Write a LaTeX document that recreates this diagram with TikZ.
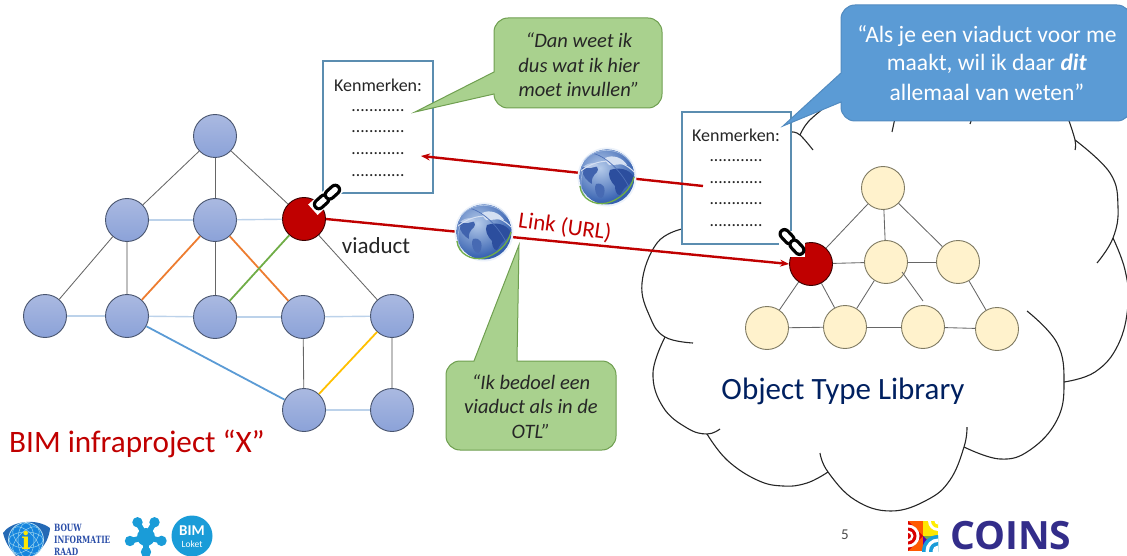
\documentclass[tikz,border=0pt]{standalone}
\usepackage{fontspec}
\setmainfont{Carlito}
\newfontfamily\coinsfont{Open Sans}
\newfontfamily\birfont{DejaVu Serif}
\usetikzlibrary{arrows.meta}
\definecolor{inkred}{HTML}{C00000}
\definecolor{navy}{HTML}{002060}
\definecolor{txt}{HTML}{262626}
\definecolor{calloutgreen}{HTML}{A9D18E}
\definecolor{calloutgreenline}{HTML}{6F9F50}
\definecolor{calloutblue}{HTML}{5B9BD5}
\definecolor{boxline}{HTML}{5B8DB0}
\definecolor{nodeline}{HTML}{49556F}
\definecolor{nodetop}{HTML}{AAB9E1}
\definecolor{nodebot}{HTML}{8BA2D8}
\definecolor{cream}{HTML}{FFF2CC}
\definecolor{creamline}{HTML}{7F7A62}
\definecolor{edgedark}{HTML}{666666}
\definecolor{edgegrey}{HTML}{BFBFBF}
\definecolor{edgepale}{HTML}{BCD2EA}
\definecolor{edgeorange}{HTML}{ED7D31}
\definecolor{edgegreen}{HTML}{70AD47}
\definecolor{edgeyellow}{HTML}{FFC000}
\definecolor{logoblue}{HTML}{1A9CD8}
\definecolor{birblue}{HTML}{2B4EA8}
\definecolor{coinsblue}{HTML}{332D8A}
\definecolor{oceanhi}{HTML}{B5CBEA}
\definecolor{oceanmid}{HTML}{6F95D2}
\definecolor{oceanlo}{HTML}{3560B0}
\definecolor{landdark}{HTML}{2C4E9E}
\definecolor{landpale}{HTML}{D5E0F2}
\newcommand{\fs}[1]{\fontsize{#1}{#1}\selectfont}
\tikzset{
  x=1pt,y=-1pt,
  bluenode/.style={circle,draw=nodeline,line width=.9pt,top color=nodetop,bottom color=nodebot,minimum size=43pt,inner sep=0pt},
  creamnode/.style={circle,draw=creamline,line width=.9pt,fill=cream,minimum size=43pt,inner sep=0pt},
  rednode/.style={circle,draw=black!70!inkred,line width=.9pt,fill=inkred,minimum size=43pt,inner sep=0pt},
  edark/.style={draw=edgedark,line width=.85pt},
  egrey/.style={draw=edgegrey,line width=1.2pt},
  epale/.style={draw=edgepale,line width=1.4pt},
  eorange/.style={draw=edgeorange,line width=1.8pt},
  egreen/.style={draw=edgegreen,line width=1.8pt},
  eblue/.style={draw=calloutblue,line width=1.8pt},
  eyellow/.style={draw=edgeyellow,line width=1.8pt},
  cloudline/.style={draw=black!85,line width=1.1pt},
  listbox/.style={draw=boxline,line width=1.1pt,fill=white},
  kenm/.style={text=txt,font=\fs{18},inner sep=0pt},
  dotrow/.style={text=txt,font=\fs{17.5},inner sep=0pt},
  linkarrow/.style={draw=inkred,line width=2.4pt,-{Stealth[length=9pt,width=7pt]}},
  greencall/.style={fill=calloutgreen,draw=calloutgreenline,line width=1pt},
  bluecall/.style={fill=calloutblue,draw=calloutblue!90!black,line width=1pt},
  quote/.style={align=center,inner sep=0pt,text=txt,font=\fs{20.5}\itshape},
  quoteb/.style={align=center,inner sep=0pt,text=white,font=\fs{23.5}},
  birtext/.style={text=birblue,font=\fs{10}\bfseries\birfont,inner sep=0pt,anchor=west,xscale=.74,transform shape},
  worldglobe/.pic={
    \fill[white!75!oceanhi] (0,0) circle (29.5);
    \begin{scope}
      \clip (0,0) circle (27.5);
      \fill[oceanlo] (0,0) circle (28);
      \shade[inner color=oceanhi,outer color=oceanlo,shading=radial] (-7,-9) circle (35);
      \fill[landdark] (3,-7) .. controls (12,-10) and (22,-8) .. (26,-1) .. controls (27,7) and (19,7) .. (15,15) .. controls (12,22) and (8,16) .. (8,9) .. controls (4,5) and (0,-2) .. (3,-7) -- cycle;
      \fill[landdark!70!oceanmid] (-25,-9) .. controls (-16,-14) and (-6,-11) .. (-10,-5) .. controls (-14,-1) and (-16,2) .. (-15,7) .. controls (-19,5) and (-26,-2) .. (-25,-9) -- cycle;
      \fill[landdark!60!oceanmid] (-11,7) .. controls (-4,5) and (0,11) .. (-4,20) .. controls (-9,24) and (-14,13) .. (-11,7) -- cycle;
      \fill[landpale] (-2,-19) .. controls (6,-23) and (16,-19) .. (20,-12) .. controls (12,-14) and (6,-11) .. (2,-12) .. controls (0,-14) and (-2,-16) .. (-2,-19) -- cycle;
      \fill[landpale!70!oceanmid] (-24,-10) .. controls (-18,-15) and (-12,-15) .. (-8,-12) .. controls (-13,-9) and (-19,-8) .. (-24,-10) -- cycle;
      \draw[landpale,line width=1pt] (-26,-6) .. controls (-10,-19) and (14,-20) .. (28,-4);
      \draw[landdark!50!oceanmid,line width=.7pt] (-16,-24) .. controls (-2,-22) and (14,-6) .. (22,10);
    \end{scope}
    \draw[oceanmid!60!white,line width=.7pt] (-23,-16) .. controls (-14,-29) and (12,-32) .. (24,-14);
    \draw[oceanmid!70!white,line width=.7pt] (-24,-6) .. controls (-27,4) and (-27,12) .. (-22,19);
    \draw[edgegreen,line width=1.3pt] (-27,9) .. controls (-26,22) and (-12,29) .. (0,26) .. controls (12,23) and (24,13) .. (27,0);
  },
  chainlink/.pic={
    \draw[black,line width=12pt,line cap=round] (-11,0) -- (-3.5,0);
    \draw[white,line width=5.4pt,line cap=round] (-11,0) -- (-3.5,0);
    \draw[black,line width=12pt,line cap=round] (3.5,0) -- (11,0);
    \draw[white,line width=5.4pt,line cap=round] (3.5,0) -- (11,0);
  },
}
\begin{document}
\begin{tikzpicture}
\useasboundingbox (0,0) rectangle (1127,556);
\clip (0,0) rectangle (1127,556);
% cloud
\draw[cloudline] plot[smooth,tension=.7] coordinates {(682,229) (657,243) (642,283) (650,317) (665,337) (693,343)};
\draw[cloudline] plot[smooth,tension=.7] coordinates {(665,337) (653,373) (663,407) (687,428) (707,434) (720,429)};
\draw[cloudline] plot[smooth,tension=.7] coordinates {(707,434) (727,460) (757,480) (783,486) (807,483) (828,472)};
\draw[cloudline] plot[smooth,tension=.7] coordinates {(820,453) (828,472) (855,500) (891,511) (927,500) (950,480) (964,447) (967,427)};
\draw[cloudline] plot[smooth,tension=.7] coordinates {(964,447) (1000,459) (1030,450) (1057,420) (1064,383) (1057,343) (1027,311)};
\draw[cloudline] plot[smooth,tension=.7] coordinates {(1064,382) (1095,372) (1118,345) (1128,305) (1125,270) (1113,238)};
\draw[cloudline] plot[smooth,tension=.7] coordinates {(1097,263) (1113,238) (1118,207) (1110,173) (1075,140)};
\draw[cloudline] plot[smooth,tension=.7] coordinates {(1075,150) (1075,140) (1068,118)};
\draw[cloudline] (892,132) -- (895,118);
\draw[cloudline] (970,124) -- (972,118);
\draw[cloudline] plot[smooth,tension=.7] coordinates {(792,132) (800,135) (813,150)};
\draw[cloudline] plot[smooth,tension=.7] coordinates {(800,135) (808,122) (824,108)};
% attribute boxes
\node[listbox,minimum width=110pt,minimum height=132pt,inner sep=0pt] (boxl) at (378,127) {};
\node[listbox,minimum width=109pt,minimum height=132pt,inner sep=0pt] (boxr) at (736.5,178) {};
\node[kenm] (kl) at (378,85) {Kenmerken:};
\node[dotrow] (dl1) at (378,111) {............};
\node[dotrow] (dl2) at (378,132) {............};
\node[dotrow] (dl3) at (378,154) {............};
\node[dotrow] (dl4) at (378,176) {............};
\node[kenm] (kr) at (736,135) {Kenmerken:};
\node[dotrow] (dr1) at (736,161) {............};
\node[dotrow] (dr2) at (736,183) {............};
\node[dotrow] (dr3) at (736,204) {............};
\node[dotrow] (dr4) at (736,226) {............};
% project graph
\node[bluenode] (a) at (215,136) {};
\node[bluenode] (b1) at (127,220) {};
\node[bluenode] (b2) at (215,220) {};
\node[rednode] (v) at (304,219) {};
\node[bluenode] (c1) at (45,316) {};
\node[bluenode] (c2) at (127,316) {};
\node[bluenode] (c3) at (215,317) {};
\node[bluenode] (c4) at (303,317) {};
\node[bluenode] (c5) at (392,316) {};
\node[bluenode] (d1) at (304,410) {};
\node[bluenode] (d2) at (392,410) {};
\draw[edark] (a) -- (b1);
\draw[edark] (a) -- (b2);
\draw[edark] (a) -- (v);
\draw[epale] (b1) -- (b2);
\draw[epale] (b2) -- (v);
\draw[edark] (b1) -- (c1);
\draw[egrey] (b1) -- (c2);
\draw[eorange] (b2) -- (c2);
\draw[edark] (b2) -- (c3);
\draw[eorange] (b2) -- (c4);
\draw[egreen] (v) -- (c3);
\draw[edark] (v) -- (c5);
\draw[epale] (c1) -- (c2);
\draw[epale] (c2) -- (c3);
\draw[epale] (c3) -- (c4);
\draw[epale] (c4) -- (c5);
\draw[eblue] (c2) -- (d1);
\draw[edark] (c4) -- (d1);
\draw[eyellow] (c5) -- (d1);
\draw[egrey] (c5) -- (d2);
\draw[epale] (d1) -- (d2);
% library graph
\node[creamnode] (t) at (883,188) {};
\node[rednode] (w) at (811,264) {};
\node[creamnode] (m) at (886,262) {};
\node[creamnode] (r) at (958,262) {};
\node[creamnode] (e1) at (767,328) {};
\node[creamnode] (e2) at (845,327) {};
\node[creamnode] (e3) at (923,327) {};
\node[creamnode] (e4) at (997,329) {};
\coordinate (mstart) at (902,272);
\coordinate (mend) at (923,301);
\draw[edark] (t) -- (w);
\draw[edark] (t) -- (m);
\draw[edark] (t) -- (r);
\draw[edark] (w) -- (m);
\draw[edark] (m) -- (r);
\draw[edark] (w) -- (e1);
\draw[edark] (w) -- (e2);
\draw[edark] (m) -- (e2);
\draw[edark] (mstart) -- (mend);
\draw[edark] (r) -- (e4);
\draw[edark] (e1) -- (e2);
\draw[edark] (e2) -- (e3);
\draw[edark] (e3) -- (e4);
% connectors
\coordinate (srcr) at (703,186);
\coordinate (tipl) at (421,156);
\draw[linkarrow] (srcr) -- (tipl);
\draw[linkarrow] (v.east) -- (w.west);
\pic at (607,177) {worldglobe};
\pic at (484,232) {worldglobe};
% labels
\node[text=txt,font=\fs{23},inner sep=0pt] (lv) at (376,246) {viaduct};
\node[text=inkred,font=\fs{23},inner sep=0pt,rotate=-8] (ll) at (565,227) {Link (URL)};
\node[text=inkred,font=\fs{31.2},inner sep=0pt,anchor=west] (lb) at (9,444) {BIM infraproject “X”};
\node[text=navy,font=\fs{31},inner sep=0pt] (lo) at (843,391) {Object Type Library};
% callouts
\path[greencall] (494,32) .. controls (494,24.3) and (500.3,18) .. (508,18) -- (648,18) .. controls (655.7,18) and (662,24.3) .. (662,32) -- (662,94) .. controls (662,101.7) and (655.7,108) .. (648,108) -- (508,108) .. controls (500.3,108) and (494,101.7) .. (494,94) -- (415,112) -- (494,72) -- cycle;
\node[quote] (q1a) at (579,40) {“Dan weet ik};
\node[quote] (q1b) at (579,65) {dus wat ik hier};
\node[quote] (q1c) at (579,89) {moet invullen”};
\path[greencall] (460,361) -- (474,361) -- (519,245) -- (517,361) -- (602,361) .. controls (609.7,361) and (616,367.3) .. (616,375) -- (616,436) .. controls (616,443.7) and (609.7,450) .. (602,450) -- (460,450) .. controls (452.3,450) and (446,443.7) .. (446,436) -- (446,375) .. controls (446,367.3) and (452.3,361) .. (460,361) -- cycle;
\node[quote] (q2a) at (531,382) {“Ik bedoel een};
\node[quote] (q2b) at (531,406) {viaduct als in de};
\node[quote] (q2c) at (531,431) {OTL”};
\path[bluecall] (841,19) .. controls (841,11.3) and (847.3,5) .. (855,5) -- (1117,5) .. controls (1124.7,5) and (1131,11.3) .. (1131,19) -- (1131,107) .. controls (1131,114.7) and (1124.7,121) .. (1117,121) -- (855,121) .. controls (847.3,121) and (841,114.7) .. (841,107) -- (841,102) -- (783,126) -- (841,73) -- cycle;
\node[quoteb] (q3a) at (987,36) {“Als je een viaduct voor me};
\node[quoteb] (q3b) at (987,64) {maakt, wil ik daar \textbf{\textit{dit}}};
\node[quoteb] (q3c) at (987,92) {allemaal van weten”};
% chain icons
\fill[white,rotate around={42:(327,197)}] (308,190) rectangle (346,204);
\fill[white] (779,231) rectangle (805,257);
\pic[rotate=42] at (327,197) {chainlink};
\pic[rotate=-47] at (792,242) {chainlink};
% page number
\node[text=black!70,font=\fs{15},inner sep=0pt] (pg) at (845,535) {5};
% BIR logo
\fill[birblue!85!cyan] (3,533) .. controls (10,522) and (35,517) .. (50,528) .. controls (49,544) and (36,558) .. (20,560) .. controls (12,552) and (6,545) .. (3,533) -- cycle;
\fill[logoblue!85!blue] (26,540) circle (17.5);
\foreach \a in {0,45,90,135}{\draw[white!55!logoblue,line width=.5pt,rotate around={\a:(26,540)}] (26,540) ellipse (17 and 8);}
\draw[white!70!logoblue,line width=.7pt] (26,540) circle (17.5);
\node[text=yellow!90!orange,font=\fs{24}\bfseries\birfont,inner sep=0pt] (biri) at (26,540) {i};
\node[birtext] (bir1) at (54,528) {BOUW};
\node[birtext] (bir2) at (54,540) {INFORMATIE};
\node[birtext] (bir3) at (54,552) {RAAD};
% star logo
\foreach \a/\r in {90/15,14/16,-60/17,-120/17,166/16.5}{\draw[logoblue,line width=5.5pt,line cap=round] (146,537) -- ++(\a:\r);\fill[logoblue] (146,537) ++(\a:\r) circle (5.2);}
\fill[logoblue] (146,537) circle (9);
% BIM Loket logo
\fill[logoblue] (192,536) circle (20.5);
\node[text=white,font=\fs{15}\bfseries,inner sep=0pt] (bim) at (192,531) {BIM};
\node[text=white,font=\fs{9.5},inner sep=0pt] (lok) at (192,544) {Loket};
% COINS logo
\begin{scope}
\clip (908,521) rectangle (938,551);
\fill[orange!70!red] (908,521) rectangle (938,551);
\fill[yellow!90!orange] (923,521) -- (938,521) -- (938,536) -- (923,536) -- cycle;
\fill[edgegreen] (923,536) -- (938,536) -- (938,551) -- cycle;
\fill[violet!70!blue] (923,536) -- (923,551) -- (938,551) -- cycle;
\fill[white] (938,521) circle (10);
\fill[yellow!95!orange] (938,521) circle (7);
\fill[white] (938,521) circle (3.5);
\fill[red!85!black] (908,521) -- (908,551) -- (923,536) -- cycle;
\fill[white] (908,536) circle (11.5);
\fill[red!85!black] (908,536) circle (8.5);
\fill[white] (908,536) circle (5.5);
\fill[red!85!black] (908,536) circle (3);
\fill[logoblue] (938,551) circle (16);
\fill[white] (938,551) circle (12.5);
\fill[logoblue] (938,551) circle (9);
\fill[white] (938,551) circle (5.5);
\end{scope}
\node[text=coinsblue,font=\fs{39}\bfseries\coinsfont,inner sep=0pt,anchor=west] (coins) at (950,536) {COINS};
\end{tikzpicture}
\end{document}
